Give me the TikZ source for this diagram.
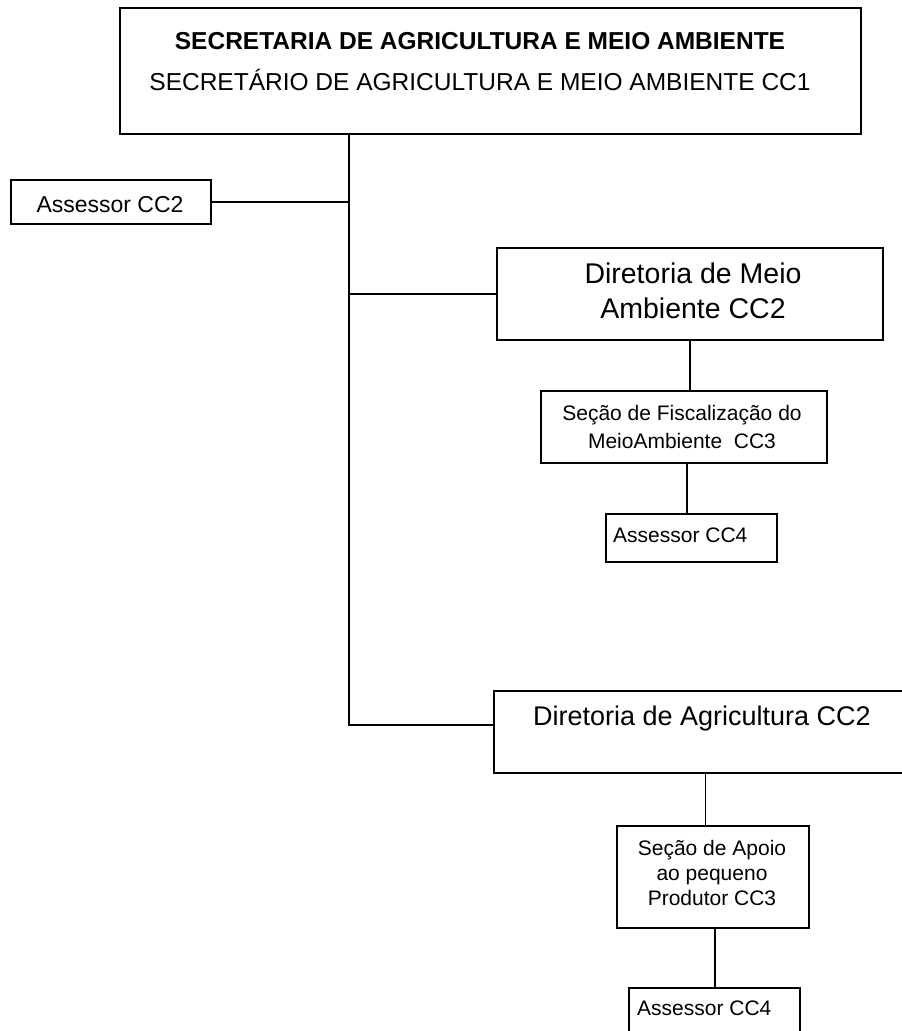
\documentclass[tikz,border=0pt]{standalone}
\usepackage{fontspec}
\setmainfont{Liberation Sans}
\begin{document}
\begin{tikzpicture}[x=1pt,y=-1pt,
  box/.style={draw, line width=1.8pt, inner sep=0pt, anchor=north west},
  conn/.style={line width=1.8pt},
  txt/.style={inner sep=0pt, anchor=base},
  ltxt/.style={inner sep=0pt, anchor=base west}]
\useasboundingbox (0,0) rectangle (902,1031);
\clip (0,0) rectangle (902,1031);
\fill[white] (0,0) rectangle (902,1031);

% boxes
\node[box, minimum width=741pt, minimum height=126pt] (top)  at (119,7)   {};
\node[box, minimum width=200pt, minimum height=44pt]  (ass2) at (10,179)  {};
\node[box, minimum width=386pt, minimum height=92pt]  (dma)  at (496,247) {};
\node[box, minimum width=286pt, minimum height=72pt]  (sfis) at (540,390) {};
\node[box, minimum width=171pt, minimum height=48pt]  (as4a) at (605,513) {};
\node[box, minimum width=417pt, minimum height=82pt]  (dagr) at (493,690) {};
\node[box, minimum width=192pt, minimum height=102pt] (sapo) at (616,825) {};
\node[box, minimum width=171pt, minimum height=70pt]  (as4b) at (628,987) {};

% texts
\node[txt, font=\fontsize{24.5}{29}\selectfont\bfseries] (t1) at (480,49) {SECRETARIA DE AGRICULTURA E MEIO AMBIENTE};
\node[txt, font=\fontsize{24.5}{29}\selectfont] (t2) at (480,90) {SECRETÁRIO DE AGRICULTURA E MEIO AMBIENTE CC1};
\node[txt, font=\fontsize{23}{28}\selectfont] (t3) at (110,212) {Assessor CC2};
\node[txt, font=\fontsize{28.5}{34}\selectfont] (t4) at (693,283) {Diretoria de Meio};
\node[txt, font=\fontsize{28.5}{34}\selectfont] (t5) at (693,318) {Ambiente CC2};
\node[txt, font=\fontsize{21}{25}\selectfont] (t6) at (682,420) {Seção de Fiscalização do};
\node[txt, font=\fontsize{21}{25}\selectfont] (t7) at (682,448) {MeioAmbiente\ \ CC3};
\node[ltxt, font=\fontsize{21}{25}\selectfont] (t8) at (613,542) {Assessor CC4};
\node[txt, font=\fontsize{27}{32}\selectfont] (t9) at (702,725) {Diretoria de Agricultura CC2};
\node[txt, font=\fontsize{21}{25}\selectfont] (t10) at (712,855) {Seção de Apoio};
\node[txt, font=\fontsize{21}{25}\selectfont] (t11) at (712,880) {ao pequeno};
\node[txt, font=\fontsize{21}{25}\selectfont] (t12) at (712,905) {Produtor CC3};
\node[ltxt, font=\fontsize{21}{25}\selectfont] (t13) at (637,1015) {Assessor CC4};

% trunk from the secretariat down to the agriculture directorate
\coordinate (tk) at ([xshift=230pt]top.south west);
\draw[conn] (tk) |- ([yshift=7pt]dagr.west);
\draw[conn] (ass2.east) -- (ass2.east -| tk);
\draw[conn] (dma.west) -- (dma.west -| tk);
% vertical links inside each directorate
\draw[conn] (dma.south) -- (dma.south |- sfis.north);
\draw[conn] ([xshift=3pt]sfis.south) -- ([xshift=3pt]sfis.south |- as4a.north);
\draw[conn] ([xshift=3pt]dagr.south) -- ([xshift=3pt]dagr.south |- sapo.north);
\draw[conn] ([xshift=2pt]sapo.south) -- ([xshift=2pt]sapo.south |- as4b.north);
\end{tikzpicture}
\end{document}
